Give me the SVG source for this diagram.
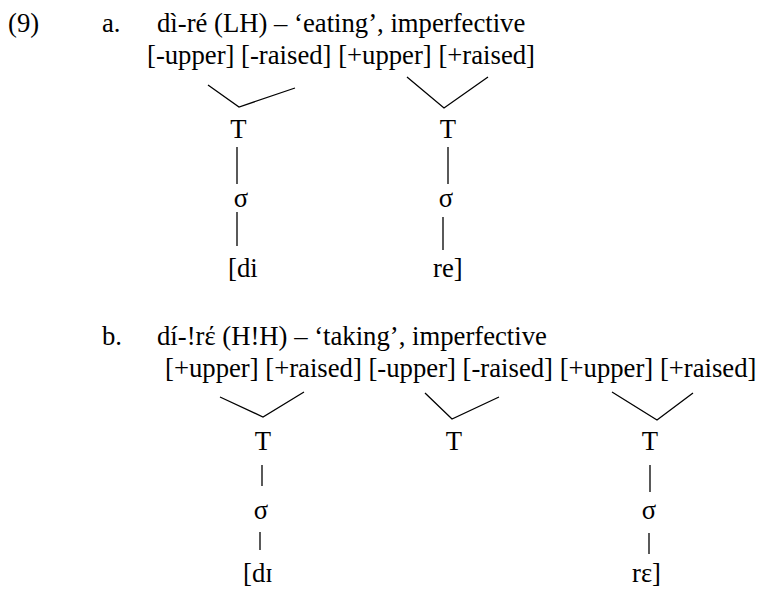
<svg xmlns="http://www.w3.org/2000/svg" width="757" height="590" viewBox="0 0 757 590">
  <style>
    text { font-family: "Liberation Serif", "Times New Roman", serif; font-size: 26.7px; fill: #000; }
    .mid { text-anchor: middle; }
    .edge { stroke: #000; stroke-width: 1.3; fill: none; }
  </style>
  <rect width="757" height="590" fill="#fff"/>

  <!-- example heading -->
  <g id="heading">
    <text x="8" y="32">(9)</text>
  </g>

  <!-- (a) dì-ré -->
  <g id="a-label">
    <text x="102" y="32">a.</text>
    <text x="157" y="32">dì-ré (LH) – ‘eating’, imperfective</text>
  </g>
  <g id="a-features">
    <text x="147" y="64">[-upper] [-raised] [+upper] [+raised]</text>
  </g>
  <g id="a-T1"><text class="mid" x="238.5" y="138">T</text></g>
  <g id="a-T2"><text class="mid" x="448" y="138">T</text></g>
  <g id="a-s1"><text class="mid" x="241" y="207">σ</text></g>
  <g id="a-s2"><text class="mid" x="446" y="207">σ</text></g>
  <g id="a-seg1"><text x="228" y="277">[di</text></g>
  <g id="a-seg2"><text x="433" y="277">re]</text></g>

  <!-- (b) dí-!rέ -->
  <g id="b-label">
    <text x="102" y="345">b.</text>
    <text x="157" y="345">dí-!rέ (H!H) – ‘taking’, imperfective</text>
  </g>
  <g id="b-features">
    <text x="165" y="377">[+upper] [+raised] [-upper] [-raised] [+upper] [+raised]</text>
  </g>
  <g id="b-T1"><text class="mid" x="263" y="450">T</text></g>
  <g id="b-T2"><text class="mid" x="454" y="450">T</text></g>
  <g id="b-T3"><text class="mid" x="650" y="450">T</text></g>
  <g id="b-s1"><text class="mid" x="261" y="519">σ</text></g>
  <g id="b-s3"><text class="mid" x="649" y="519">σ</text></g>
  <g id="b-seg1"><text x="243" y="582">[dɪ</text></g>
  <g id="b-seg3"><text x="632" y="582">rɛ]</text></g>

  <!-- association lines -->
  <g id="connectors" class="edge">
    <polyline points="208,85 239,107 295,88"/>
    <polyline points="407,77 444,108 488,77"/>
    <line x1="237" y1="147" x2="237" y2="184"/>
    <line x1="448" y1="147" x2="448" y2="184"/>
    <line x1="237" y1="212" x2="237" y2="246"/>
    <line x1="443" y1="217" x2="443" y2="250"/>

    <polyline points="220,397 263,417 304,392"/>
    <polyline points="425,393 452,419 499,397"/>
    <polyline points="612,392 657,420 693,393"/>
    <line x1="262" y1="465" x2="262" y2="486"/>
    <line x1="650" y1="465" x2="650" y2="492"/>
    <line x1="260" y1="532" x2="260" y2="550"/>
    <line x1="649" y1="533" x2="649" y2="554"/>
  </g>
</svg>
